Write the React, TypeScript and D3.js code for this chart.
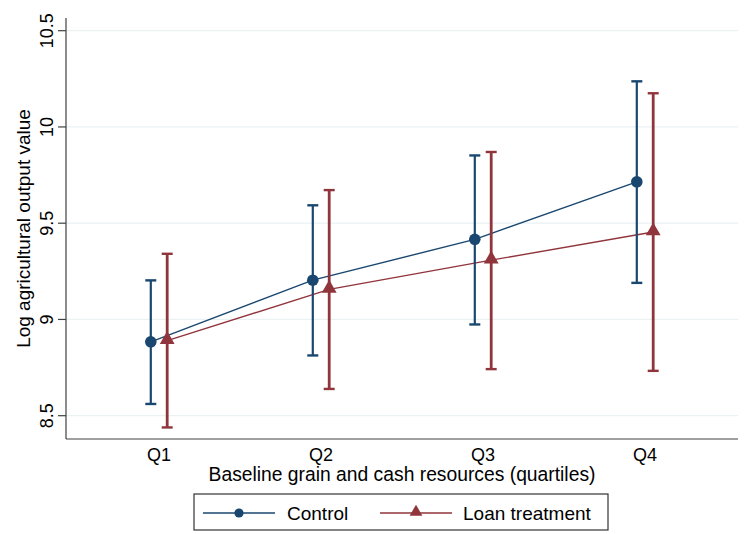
import React from "react";
import * as d3 from "d3";

// quartile categories and estimated means with 95% CIs
const quartiles = ["Q1", "Q2", "Q3", "Q4"];
const controlMean = [8.884, 9.204, 9.416, 9.715];
const controlLow = [8.561, 8.813, 8.974, 9.19];
const controlHigh = [9.203, 9.593, 9.852, 10.237];
const loanMean = [8.89, 9.156, 9.308, 9.454];
const loanLow = [8.439, 8.639, 8.742, 8.733];
const loanHigh = [9.341, 9.672, 9.87, 10.175];
const yTicks = [8.5, 9, 9.5, 10, 10.5];

const width = 747;
const height = 534;
const plot = { left: 66, right: 738, top: 18, bottom: 439 };

const navy = "#1a476f";
const maroon = "#90353b";
const font = "'Liberation Sans', Arial, Helvetica, sans-serif";

const App = () => {
  const x = d3
    .scalePoint<string>()
    .domain(quartiles)
    .range([plot.left, plot.right])
    .padding(0.574);

  const y = d3.scaleLinear().domain([8.5, 10.5]).range([415.7, 30.7]);

  const offset = 8.2;
  const series = [
    { name: "Control", mean: controlMean, low: controlLow, high: controlHigh, color: navy, dx: -offset, barW: 2.2, marker: "circle" },
    { name: "Loan treatment", mean: loanMean, low: loanLow, high: loanHigh, color: maroon, dx: offset, barW: 2.8, marker: "triangle" },
  ];

  const tri = d3.symbol().type(d3.symbolTriangle).size(95)();
  const triSmall = d3.symbol().type(d3.symbolTriangle).size(70)();

  const line = d3
    .line<number>()
    .x((d, i) => x(quartiles[i])!)
    .y((d) => y(d));

  return (
    <svg width={width} height={height} style={{ position: "absolute", left: 0, top: 0, background: "#fff" }}>
      {/* gridlines */}
      {yTicks.map((t) => (
        <line key={"g" + t} x1={plot.left} x2={plot.right} y1={y(t)} y2={y(t)} stroke="#eaf2f3" strokeWidth={1.2} />
      ))}

      {/* axes */}
      <line x1={plot.left} x2={plot.left} y1={plot.top} y2={plot.bottom} stroke="#404040" strokeWidth={1.2} />
      <line x1={plot.left} x2={plot.right} y1={plot.bottom} y2={plot.bottom} stroke="#404040" strokeWidth={1.2} />
      {yTicks.map((t) => (
        <g key={"t" + t}>
          <line x1={plot.left - 8} x2={plot.left} y1={y(t)} y2={y(t)} stroke="#404040" strokeWidth={1.2} />
          <text
            transform={`translate(53, ${y(t)}) rotate(-90)`}
            textAnchor="middle"
            fontFamily={font}
            fontSize={18}
            fill="#000"
          >
            {t}
          </text>
        </g>
      ))}
      {quartiles.map((q) => (
        <text key={q} x={x(q)} y={461} textAnchor="middle" fontFamily={font} fontSize={18} fill="#000">
          {q}
        </text>
      ))}
      <text x={(plot.left + plot.right) / 2} y={481} textAnchor="middle" fontFamily={font} fontSize={19.3} fill="#000">
        Baseline grain and cash resources (quartiles)
      </text>
      <text
        transform={`translate(30, ${(plot.top + plot.bottom) / 2}) rotate(-90)`}
        textAnchor="middle"
        fontFamily={font}
        fontSize={19}
        fill="#000"
      >
        Log agricultural output value
      </text>

      {/* connecting lines */}
      {series.map((s) => (
        <path
          key={"l" + s.name}
          d={line(s.mean)!}
          transform={`translate(${s.dx},0)`}
          fill="none"
          stroke={s.color}
          strokeWidth={1.4}
        />
      ))}

      {/* error bars and markers */}
      {series.map((s) =>
        quartiles.map((q, i) => {
          const cx = x(q)! + s.dx;
          return (
            <g key={s.name + q}>
              <line x1={cx} x2={cx} y1={y(s.low[i])} y2={y(s.high[i])} stroke={s.color} strokeWidth={s.barW} />
              <line x1={cx - 5.5} x2={cx + 5.5} y1={y(s.low[i])} y2={y(s.low[i])} stroke={s.color} strokeWidth={2.4} />
              <line x1={cx - 5.5} x2={cx + 5.5} y1={y(s.high[i])} y2={y(s.high[i])} stroke={s.color} strokeWidth={2.4} />
              {s.marker === "circle" ? (
                <circle cx={cx} cy={y(s.mean[i])} r={5.8} fill={s.color} />
              ) : (
                <path d={tri!} transform={`translate(${cx}, ${y(s.mean[i]) - 1})`} fill={s.color} />
              )}
            </g>
          );
        })
      )}

      {/* legend */}
      <rect x={194} y={494} width={414} height={36} fill="#fff" stroke="#333" strokeWidth={1.2} />
      <line x1={203} x2={275} y1={513} y2={513} stroke={navy} strokeWidth={1.4} />
      <circle cx={239} cy={513} r={4.6} fill={navy} />
      <text x={287} y={520} fontFamily={font} fontSize={19} fill="#000">
        Control
      </text>
      <line x1={380} x2={452} y1={513} y2={513} stroke={maroon} strokeWidth={1.4} />
      <path d={triSmall!} transform="translate(416, 512)" fill={maroon} />
      <text x={463} y={520} fontFamily={font} fontSize={19} fill="#000">
        Loan treatment
      </text>
    </svg>
  );
};

export default App;
